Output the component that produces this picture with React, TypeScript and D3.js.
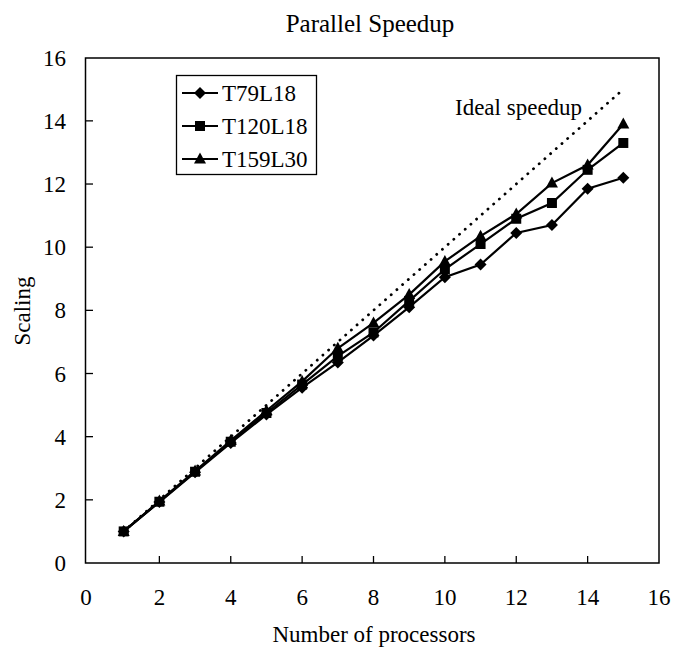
import React, { useRef, useEffect } from 'react';
import * as d3 from 'd3';

// processors count
const processors = [1, 2, 3, 4, 5, 6, 7, 8, 9, 10, 11, 12, 13, 14, 15];

// scaling per resolution
const t79l18 = [1, 1.93, 2.87, 3.8, 4.7, 5.55, 6.35, 7.2, 8.1, 9.05, 9.45, 10.45, 10.7, 11.85, 12.2];
const t120l18 = [1, 1.94, 2.89, 3.84, 4.75, 5.65, 6.55, 7.3, 8.3, 9.3, 10.1, 10.9, 11.4, 12.45, 13.3];
const t159l30 = [1, 1.96, 2.91, 3.88, 4.82, 5.75, 6.8, 7.6, 8.5, 9.55, 10.35, 11.05, 12.03, 12.6, 13.9];

const ideal = [1, 15];

const xTicks = [0, 2, 4, 6, 8, 10, 12, 14, 16];
const yTicks = [0, 2, 4, 6, 8, 10, 12, 14, 16];

const seriesNames = ['T79L18', 'T120L18', 'T159L30'];

const FONT = '"Liberation Serif", "Times New Roman", serif';

// marker shapes: rotated square, square, triangle
const markerPath = (kind: number) => {
  if (kind === 0) return 'M0,-6L6,0L0,6L-6,0Z';
  if (kind === 1) return 'M-5,-5H5V5H-5Z';
  return 'M0,-6.5L6,4.5H-6Z';
};

const App = () => {
  const svgRef = useRef<SVGSVGElement>(null);
  const width = 673;
  const height = 647;

  useEffect(() => {
    const svg = d3.select(svgRef.current);
    svg.selectAll('*').remove();

    const xScale = d3.scaleLinear().domain([0, 16]).range([88, 659]);
    const yScale = d3.scaleLinear().domain([0, 16]).range([563, 57.7]);

    svg.append('rect').attr('width', width).attr('height', height).attr('fill', '#fff');

    // frame
    svg.append('rect')
      .attr('x', 85.5)
      .attr('y', 58)
      .attr('width', 659 - 85.5)
      .attr('height', 563 - 58)
      .attr('fill', 'none')
      .attr('stroke', '#000')
      .attr('stroke-width', 1.5);

    // x ticks (inside)
    svg.append('g')
      .selectAll('line')
      .data(xTicks.slice(1, -1))
      .enter()
      .append('line')
      .attr('x1', d => xScale(d))
      .attr('x2', d => xScale(d))
      .attr('y1', 563)
      .attr('y2', 556)
      .attr('stroke', '#000')
      .attr('stroke-width', 1.3);

    svg.append('g')
      .selectAll('text')
      .data(xTicks)
      .enter()
      .append('text')
      .attr('x', d => xScale(d) - (d === 0 ? 2 : 0))
      .attr('y', 605)
      .attr('text-anchor', 'middle')
      .attr('font-family', FONT)
      .attr('font-size', 23)
      .text(d => d);

    // y ticks (inside)
    svg.append('g')
      .selectAll('line')
      .data(yTicks.slice(1, -1))
      .enter()
      .append('line')
      .attr('x1', 85.5)
      .attr('x2', 93)
      .attr('y1', d => yScale(d))
      .attr('y2', d => yScale(d))
      .attr('stroke', '#000')
      .attr('stroke-width', 1.3);

    svg.append('g')
      .selectAll('text')
      .data(yTicks)
      .enter()
      .append('text')
      .attr('x', 66)
      .attr('y', d => yScale(d) + 8)
      .attr('text-anchor', 'end')
      .attr('font-family', FONT)
      .attr('font-size', 23)
      .text(d => d);

    // ideal speedup dotted line
    svg.append('line')
      .attr('x1', xScale(ideal[0]))
      .attr('y1', yScale(ideal[0]))
      .attr('x2', xScale(ideal[1]))
      .attr('y2', yScale(ideal[1]))
      .attr('stroke', '#000')
      .attr('stroke-width', 2.8)
      .attr('stroke-linecap', 'round')
      .attr('stroke-dasharray', '0.1 7.5');

    svg.append('text')
      .attr('x', 455)
      .attr('y', 115)
      .attr('font-family', FONT)
      .attr('font-size', 23)
      .text('Ideal speedup');

    const line = d3.line<number>()
      .x((d, i) => xScale(processors[i]))
      .y(d => yScale(d));

    const allSeries = [t79l18, t120l18, t159l30];

    allSeries.forEach((values, si) => {
      svg.append('path')
        .datum(values)
        .attr('d', line)
        .attr('fill', 'none')
        .attr('stroke', '#000')
        .attr('stroke-width', 2.2);

      svg.append('g')
        .selectAll('path')
        .data(values)
        .enter()
        .append('path')
        .attr('d', markerPath(si))
        .attr('transform', (d, i) => `translate(${xScale(processors[i])},${yScale(d)})`)
        .attr('fill', '#000');
    });

    // legend
    const legend = svg.append('g');
    legend.append('rect')
      .attr('x', 176.5)
      .attr('y', 75.5)
      .attr('width', 140)
      .attr('height', 99)
      .attr('fill', '#fff')
      .attr('stroke', '#000')
      .attr('stroke-width', 1.3);

    seriesNames.forEach((name, i) => {
      const cy = 93 + i * 33;
      legend.append('line')
        .attr('x1', 182)
        .attr('x2', 218)
        .attr('y1', cy)
        .attr('y2', cy)
        .attr('stroke', '#000')
        .attr('stroke-width', 2);
      legend.append('path')
        .attr('d', markerPath(i))
        .attr('transform', `translate(200,${cy})`)
        .attr('fill', '#000');
      legend.append('text')
        .attr('x', 222)
        .attr('y', cy + 8)
        .attr('font-family', FONT)
        .attr('font-size', 23)
        .text(name);
    });

    // title
    svg.append('text')
      .attr('x', 370)
      .attr('y', 32)
      .attr('text-anchor', 'middle')
      .attr('font-family', FONT)
      .attr('font-size', 25)
      .text('Parallel Speedup');

    // x axis label
    svg.append('text')
      .attr('x', 374)
      .attr('y', 642)
      .attr('text-anchor', 'middle')
      .attr('font-family', FONT)
      .attr('font-size', 23)
      .text('Number of processors');

    // y axis label
    svg.append('text')
      .attr('transform', 'rotate(-90)')
      .attr('x', -311)
      .attr('y', 30)
      .attr('text-anchor', 'middle')
      .attr('font-family', FONT)
      .attr('font-size', 23)
      .text('Scaling');
  }, []);

  return (
    <svg
      ref={svgRef}
      width={width}
      height={height}
      style={{ position: 'absolute', left: 0, top: 0 }}
    />
  );
};

export default App;
